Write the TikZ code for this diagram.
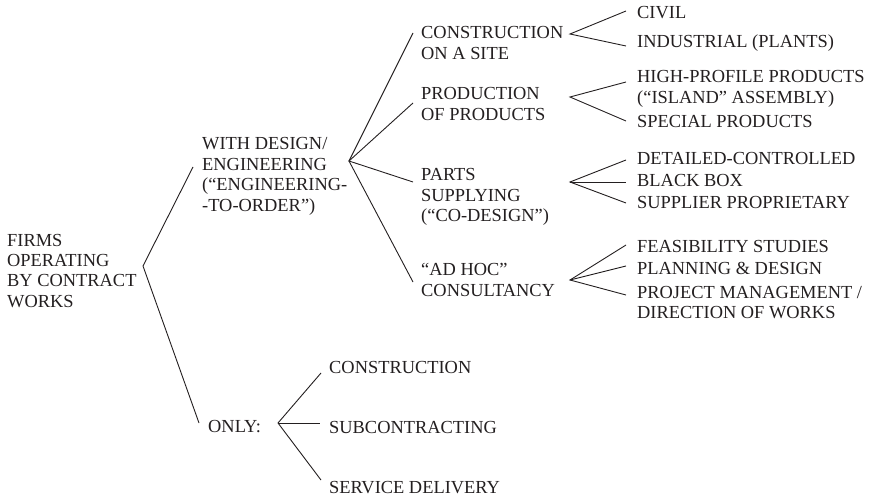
\documentclass[tikz,border=0pt]{standalone}
\usepackage{fontspec}
\setmainfont{Liberation Serif}
\usepackage{tikz}
\usepackage{xcolor}

\definecolor{inkgray}{RGB}{35,31,32}
\tikzset{
  lbl/.style={anchor=base west, inner sep=0pt, align=left, text=inkgray,
    font=\fontsize{18.4}{20.4}\selectfont},
  brn/.style={line width=0.9pt, draw=inkgray}
}

\begin{document}
\begin{tikzpicture}[x=1pt,y=-1pt]
\useasboundingbox (0,0) rectangle (876,497);

% root and first split (base = last line)
\node[lbl] (firms) at (7,307.2) {FIRMS\\OPERATING\\BY CONTRACT\\WORKS};
\node[lbl] (design) at (202,211.2) {WITH DESIGN/\\ENGINEERING\\(“ENGINEERING-\\-TO-ORDER”)};
\node[lbl] (only) at (208,432) {ONLY:};

\coordinate (firmsv) at (143,266);
\coordinate (designend) at (193,167);
\coordinate (onlyend) at (199,423);
\draw[brn] (designend) -- (firmsv) -- (onlyend);

% with design / engineering
\node[lbl] (site) at (421,59.4) {CONSTRUCTION\\ON A SITE};
\node[lbl] (prod) at (421,120.4) {PRODUCTION\\OF PRODUCTS};
\node[lbl] (parts) at (421,221.8) {PARTS\\SUPPLYING\\(“CO-DESIGN”)};
\node[lbl] (adhoc) at (421,296.4) {“AD HOC”\\CONSULTANCY};

\coordinate (designv) at (349,161);
\coordinate (siteend) at (413,33);
\coordinate (prodend) at (413,103);
\coordinate (partsend) at (413,182);
\coordinate (adhocend) at (413,282);
\draw[brn] (siteend) -- (designv) -- (adhocend);
\draw[brn] (prodend) -- (designv) -- (partsend);

% construction on a site
\node[lbl] (civil) at (637,19) {CIVIL};
\node[lbl] (indus) at (637,48) {INDUSTRIAL (PLANTS)};
\coordinate (sitev) at (570,34);
\coordinate (civilend) at (626,11);
\coordinate (indusend) at (626,46);
\draw[brn] (civilend) -- (sitev) -- (indusend);

% production of products
\node[lbl] (highp) at (637,103.4) {HIGH-PROFILE PRODUCTS\\(“ISLAND” ASSEMBLY)};
\node[lbl] (special) at (637,128) {SPECIAL PRODUCTS};
\coordinate (prodv) at (570,97);
\coordinate (highpend) at (626,82);
\coordinate (specialend) at (626,121);
\draw[brn] (highpend) -- (prodv) -- (specialend);

% parts supplying
\node[lbl] (detail) at (637,165) {DETAILED-CONTROLLED};
\node[lbl] (bbox) at (637,187) {BLACK BOX};
\node[lbl] (propr) at (637,209) {SUPPLIER PROPRIETARY};
\coordinate (partsv) at (570,182);
\coordinate (detailend) at (626,160);
\coordinate (bboxend) at (626,182);
\coordinate (proprend) at (626,203);
\draw[brn] (detailend) -- (partsv) -- (proprend);
\draw[brn] (partsv) -- (bboxend);

% ad hoc consultancy
\node[lbl] (feas) at (637,253) {FEASIBILITY STUDIES};
\node[lbl] (plan) at (637,275) {PLANNING \& DESIGN};
\node[lbl] (pm) at (637,318.4) {PROJECT MANAGEMENT /\\DIRECTION OF WORKS};
\coordinate (adhocv) at (570,280);
\coordinate (feasend) at (626,245);
\coordinate (planend) at (626,266);
\coordinate (pmend) at (626,295);
\draw[brn] (feasend) -- (adhocv) -- (pmend);
\draw[brn] (adhocv) -- (planend);

% only
\node[lbl] (constr) at (329,373) {CONSTRUCTION};
\node[lbl] (subc) at (329,433) {SUBCONTRACTING};
\node[lbl] (serv) at (329,493) {SERVICE DELIVERY};
\coordinate (onlyv) at (278,423);
\coordinate (constrend) at (321,373);
\coordinate (subcend) at (320,423);
\coordinate (servend) at (321,480);
\draw[brn] (constrend) -- (onlyv) -- (servend);
\draw[brn] (onlyv) -- (subcend);

\end{tikzpicture}
\end{document}
